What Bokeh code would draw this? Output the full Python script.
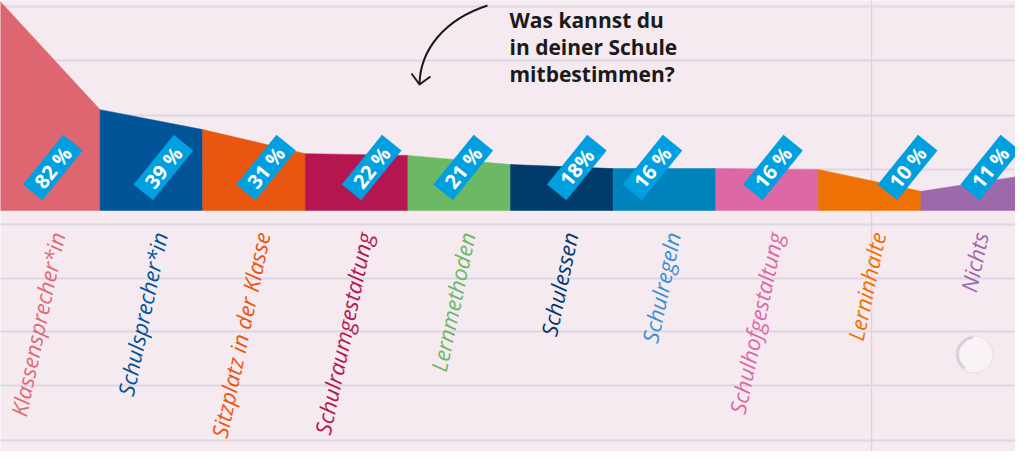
from bokeh.plotting import figure
from bokeh.models import Range1d, ColumnDataSource
from bokeh.core.properties import value
from bokeh.embed import file_html
from bokeh.resources import INLINE

# ---------------- data ----------------
categories = ["Klassensprecher*in", "Schulsprecher*in", "Sitzplatz in der Klasse",
              "Schulraumgestaltung", "Lernmethoden", "Schulessen", "Schulregeln",
              "Schulhofgestaltung", "Lerninhalte", "Nichts"]
pct_labels = ["82 %", "39 %", "31 %", "22 %", "21 %", "18%", "16 %", "16 %", "10 %", "11 %"]
# heights of the shape at each of the 11 boundaries (percent), as drawn
edge_pct = [82, 39, 31.3, 22, 21.3, 17.8, 16.2, 16.2, 15.9, 7.4, 13.5]

fill_colors = ["#de6670", "#005497", "#e9560f", "#b5164f", "#6bb865",
               "#003b6c", "#0082bb", "#dc68a5", "#ed7203", "#9d69aa"]
label_colors = ["#e06a72", "#005497", "#e9560f", "#b5164f", "#6bb865",
                "#003b6c", "#3d8fd1", "#dc68a5", "#ed7203", "#9d69aa"]
# small horizontal shifts (pixels) of the percentage tags
tag_dx = [4, 12, 12, 15, 4, 15, -12, 6, 38, 18]

# ---------------- geometry helpers ----------------
PXX = 102.6      # pixels per category
PXY = 2.585      # pixels per percent
X0, BASE = 5, 218  # reference pixel of x=0 and of the baseline


def sx(X):
    return (X - X0) / PXX


def sy(Y):
    return (BASE - Y) / PXY


paper = "#f6eaf1"
rule = "#ddd6e3"

p = figure(width=1015, height=451,
           x_range=Range1d(sx(8), sx(1023)), y_range=Range1d(sy(459), sy(8)),
           x_axis_type=None, y_axis_type=None,
           output_backend="svg", toolbar_location=None, min_border=0)
p.grid.visible = False
p.outline_line_color = None
p.background_fill_color = paper
p.border_fill_color = paper

# notebook rules
rule_Y = [14, 68, 123, 177, 232, 286, 339, 393, 448]
p.segment(x0=[sx(0)] * len(rule_Y), x1=[sx(1040)] * len(rule_Y),
          y0=[sy(Y) for Y in rule_Y], y1=[sy(Y) for Y in rule_Y],
          line_color=rule, line_width=2)
# margin line
p.segment(x0=[sx(879)], x1=[sx(879)], y0=[sy(0)], y1=[sy(470)],
          line_color="#ebcdd5", line_width=1.5)

# punched hole
p.scatter(x=[sx(982)], y=[sy(362)], size=37, fill_color="#f9f3f7",
          line_color="#e6dde3", line_width=1)
p.arc(x=[sx(982)], y=[sy(362)], radius=17, radius_units="screen",
      start_angle=95, end_angle=235, start_angle_units="deg", end_angle_units="deg",
      line_color="#d9d0d7", line_width=3)

# shapes
n = len(categories)
xs = [[i, i, i + 1, i + 1] for i in range(n)]
ys = [[0, edge_pct[i], edge_pct[i + 1], 0] for i in range(n)]
p.patches(xs=xs, ys=ys, fill_color=fill_colors, line_color=fill_colors, line_width=0.5)

# percentage tags
tag_x = [i + 0.5 + tag_dx[i] / PXX for i in range(n)]
tag_y = [sy(175)] * n
p.rect(x=tag_x, y=tag_y, width=64, height=25, width_units="screen",
       height_units="screen", angle=51, angle_units="deg",
       fill_color="#009fe0", line_color=None)
p.text(x=tag_x, y=tag_y, text=pct_labels, angle=51, angle_units="deg",
       text_align="center", text_baseline="middle", text_color="white",
       text_font=value("Open Sans"), text_font_size="20px", text_font_style="bold")

# category labels
src = ColumnDataSource(dict(x=[i + 0.5 for i in range(n)], y=[sy(240)] * n,
                            t=categories, c=label_colors))
p.text(x="x", y="y", text="t", source=src, text_color="c",
       angle=78, angle_units="deg", text_align="right", text_baseline="middle",
       x_offset=8, text_font=value("Open Sans"), text_font_size="22px",
       text_font_style="italic")

# title
title_lines = ["Was kannst du", "in deiner Schule", "mitbestimmen?"]
title_Y = [27, 54, 81]
p.text(x=[sx(517)] * 3, y=[sy(Y) for Y in title_Y], text=title_lines,
       text_align="left", text_baseline="alphabetic", text_color="#1a1a1a",
       text_font=value("Open Sans"), text_font_size="21px", text_font_style="bold")

# arrow
p.bezier(x0=[sx(495)], y0=[sy(13)], x1=[sx(427)], y1=[sy(91)],
         cx0=[sx(452)], cy0=[sy(27)], cx1=[sx(428)], cy1=[sy(57)],
         line_color="#1a1a1a", line_width=2)
p.multi_line(xs=[[sx(419), sx(427), sx(438)]], ys=[[sy(81), sy(92), sy(84)]],
             line_color="#1a1a1a", line_width=2, line_join="round")

open("out.html", "w").write(file_html(p, INLINE))
